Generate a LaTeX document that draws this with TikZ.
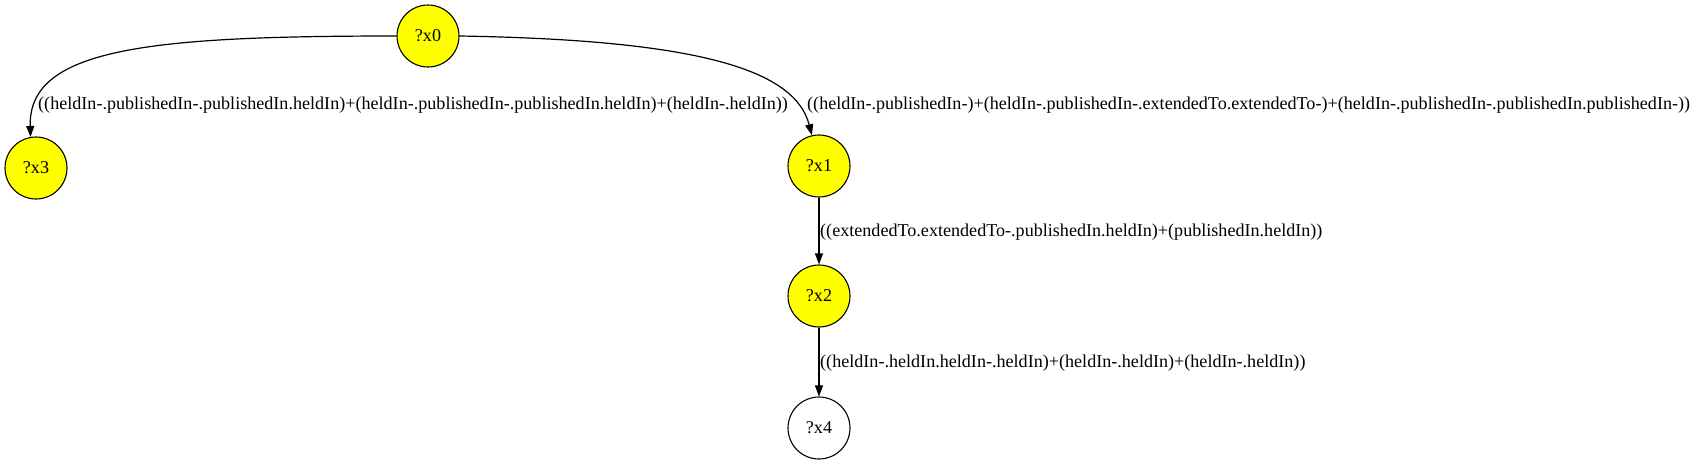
\documentclass[tikz,border=0pt]{standalone}
\usepackage{fontspec}
\setmainfont{Liberation Serif}
\usetikzlibrary{arrows.meta}
\definecolor{gvyellow}{rgb}{1, 1, 0}
\tikzset{var/.style = {draw, line width = 1.1pt, circle, fill = gvyellow, inner sep = 0, minimum size = 62pt, font = \fontsize{18.1}{20}\selectfont}}
\tikzset{lbl/.style = {anchor = west, inner sep = 0, font = \fontsize{18.1}{20}\selectfont}}
\tikzset{edge/.style = {-{Triangle[length = 11pt, width = 8pt]}, line width = 1.2pt}}

\begin{document}
\begin{tikzpicture}[x = 1pt, y = -1pt]
    \useasboundingbox (0, 0) rectangle (1698, 464);

    \node [var] (x0) at (428, 36) {?x0};
    \node [var] (x3) at (36, 168) {?x3};
    \node [var] (x1) at (819, 166) {?x1};
    \node [var] (x2) at (819, 296) {?x2};
    \node [var, fill = white] (x4) at (819, 428) {?x4};

    \draw [edge] (x0.west) .. controls (150, 36) and (28, 48) .. (x3.100);
    \draw [edge] (x0.east) .. controls (700, 40) and (795, 70) .. (x1.103);
    \draw [edge] (x1) -- (x2);
    \draw [edge] (x2) -- (x4);

    \node [lbl] (l03) at (38, 105) {((heldIn-.publishedIn-.publishedIn.heldIn)+(heldIn-.publishedIn-.publishedIn.heldIn)+(heldIn-.heldIn))};
    \node [lbl] (l01) at (807, 105) {((heldIn-.publishedIn-)+(heldIn-.publishedIn-.extendedTo.extendedTo-)+(heldIn-.publishedIn-.publishedIn.publishedIn-))};
    \node [lbl] (l12) at (820, 232) {((extendedTo.extendedTo-.publishedIn.heldIn)+(publishedIn.heldIn))};
    \node [lbl] (l24) at (820, 363) {((heldIn-.heldIn.heldIn-.heldIn)+(heldIn-.heldIn)+(heldIn-.heldIn))};
\end{tikzpicture}
\end{document}
